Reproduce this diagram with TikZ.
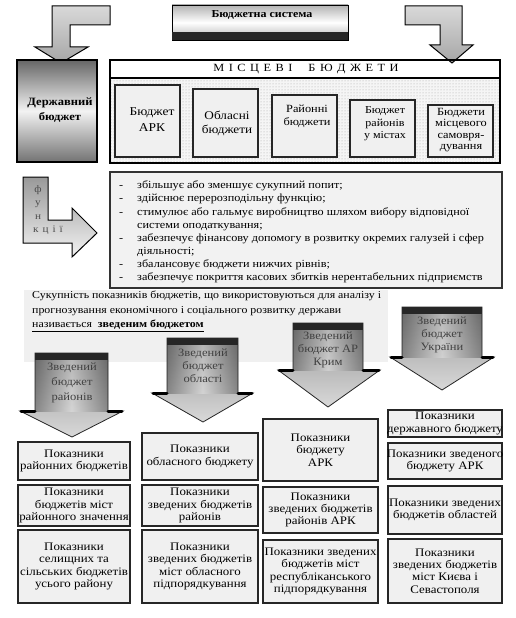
\documentclass[tikz,border=0pt]{standalone}
\usepackage{fontspec}
\setmainfont{Liberation Serif}[FakeStretch=1.12]
\usetikzlibrary{patterns}
\newcommand\pbx[5]{\node[pbox, minimum width=#3, minimum height=#4] (#1) at (#2) {};
  \node[ptext] (#1t) at (#1) {#5};}
\begin{document}
\begin{tikzpicture}[x=1pt,y=-1pt,
  larr/.style={draw=black, line width=1pt, top color=gray!30, bottom color=gray!70},
  inbox/.style={draw=black!85, line width=2pt, fill=gray!12, inner sep=0pt},
  pbox/.style={draw=black!85, line width=1.8pt, fill=gray!12, inner sep=0pt},
  ptext/.style={inner sep=0pt, align=center, font=\fontsize{11.5}{12.3}\selectfont},
  darr/.style={draw=black!85, line width=0.8pt, top color=gray!85, bottom color=gray!30},
  dside/.style={left color=black, right color=black, middle color=white, fill opacity=0.3},
  wing/.style={draw=black, line width=3pt, line cap=round},
  band/.style={fill=black!85},
  atext/.style={align=center, text=black!75, font=\fontsize{11.2}{13}\selectfont},
  ftext/.style={text=black!70, font=\fontsize{10}{12}\selectfont, inner sep=0pt},
]
\useasboundingbox (0,0) rectangle (515,618);
\fill[white] (0,0) rectangle (515,618);

% top L-arrows
\path[larr] (110,6) -- (52,6) -- (52,47) -- (35,47) -- (61,63) -- (88,47) -- (70,47) -- (70,25) -- (110,25) -- cycle;
\path[larr] (405,6) -- (462,6) -- (462,45) -- (473,45) -- (452,63) -- (430,45) -- (440,45) -- (440,25) -- (405,25) -- cycle;

% budget system
\node[draw=black, line width=0.8pt, minimum width=176pt, minimum height=35pt, inner sep=0pt,
      top color=gray!60, bottom color=gray!60, middle color=white] (bsbox) at (260,22.5) {};
\fill[black!85] (172,32) rectangle (348,40);
\node[font=\bfseries\fontsize{10.7}{13}\selectfont] (bs) at (262,15) {Бюджетна система};

% state budget
\node[draw=black, line width=1.5pt, minimum width=80pt, minimum height=102pt, inner sep=0pt,
      top color=black!60, bottom color=black!55, middle color=black!5] (db) at (57,111) {};
\node[font=\bfseries\fontsize{11.2}{15}\selectfont, align=center] (dbt) at (60,110.5) {Державний\\бюджет};

% local budgets
\fill[gray!8] (111,78) rectangle (499,162);
\fill[pattern=dots, pattern color=gray!70] (111,78) rectangle (499,162);
\node[draw=black, line width=1.6pt, minimum width=390pt, minimum height=103pt, inner sep=0pt] (mb) at (305,111.5) {};
\draw[line width=1.2pt] (110,78) -- (500,78);
\node[font=\fontsize{11}{13}\selectfont] (mbt) at (306,69.5) {М\hspace{4.5pt}І\hspace{4.5pt}С\hspace{4.5pt}Ц\hspace{4.5pt}Е\hspace{4.5pt}В\hspace{4.5pt}І\hspace{16pt}Б\hspace{4.5pt}Ю\hspace{4.5pt}Д\hspace{4.5pt}Ж\hspace{4.5pt}Е\hspace{4.5pt}Т\hspace{4.5pt}И};

\node[inbox, minimum width=65pt, minimum height=72pt] (b1) at (147.5,121) {};
\node[inbox, minimum width=65pt, minimum height=68pt] (b2) at (225.5,123) {};
\node[inbox, minimum width=65pt, minimum height=62pt] (b3) at (304.5,126) {};
\node[inbox, minimum width=65pt, minimum height=57pt] (b4) at (382.5,128.5) {};
\node[inbox, minimum width=65pt, minimum height=52pt] (b5) at (460.5,131) {};
\node[align=center, font=\fontsize{12}{16}\selectfont] (t1) at (152,120) {Бюджет\\АРК};
\node[align=center, font=\fontsize{11.8}{14}\selectfont] (t2) at (227,123) {Обласні\\бюджети};
\node[align=center, font=\fontsize{11}{13}\selectfont] (t3) at (307,116) {Районні\\бюджети};
\node[align=center, font=\fontsize{10.7}{12.5}\selectfont] (t4) at (385,124) {Бюджет\\районів\\у містах};
\node[align=center, font=\fontsize{11}{11.4}\selectfont] (t5) at (461,130) {Бюджети\\місцевого\\самовря-\\дування};

% functions arrow
\path[draw=black, line width=1pt, top color=gray!80, bottom color=gray!10] (23,177) -- (48,177) -- (48,220) -- (72,220) -- (72,208) -- (97,233) -- (72,257) -- (72,243) -- (23,243) -- cycle;
\node[ftext] (f1) at (38,190) {ф};
\node[ftext] (f2) at (38,204) {у};
\node[ftext] (f3) at (38,217) {н};
\node[ftext] (f4) at (48,230) {к\hspace{4pt}ц\hspace{4pt}і\hspace{4pt}ї};

% functions box
\node[draw=black!80, line width=2pt, fill=gray!10, minimum width=392pt, minimum height=116pt, inner sep=0pt] (fb) at (306,230) {};
\node[anchor=north west, inner sep=0pt, font=\fontsize{10.9}{13.1}\selectfont] (fl) at (119,179.5) {%
\begin{tabular}{@{}p{18pt}@{}l@{}}
-&збільшує або зменшує сукупний попит;\\
-&здійснює перерозподільну функцію;\\
-&стимулює або гальмує виробництво шляхом вибору відповідної\\
&системи оподаткування;\\
-&забезпечує фінансову допомогу в розвитку окремих галузей і сфер\\
&діяльності;\\
-&збалансовує бюджети нижчих рівнів;\\
-&забезпечує покриття касових збитків нерентабельних підприємств
\end{tabular}};

% summary
\node[fill=gray!12, minimum width=364pt, minimum height=72pt, inner sep=0pt] (sr) at (206,326) {};
\node[anchor=north west, inner sep=0pt, align=left, font=\fontsize{10.6}{14.5}\selectfont] (st) at (32,291) {Сукупність показників бюджетів, що використовуються для аналізу і\\прогнозування економічного і соціального розвитку держави\\\underline{називається\ \ \textbf{зведеним бюджетом}}};

% down arrows
\path[darr] (35,353) -- (108,353) -- (108,411) -- (123,411) -- (72,437) -- (20,411) -- (35,411) -- cycle;
\path[dside] (35,360) rectangle (108,411);
\draw[wing] (21,411) -- (35,411) (108,411) -- (122,411);
\fill[band] (35,353) rectangle (108,360);
\node[atext, font=\fontsize{11.2}{15}\selectfont] (a1) at (72,383) {Зведений\\бюджет\\районів};

\path[darr] (167,338) -- (238,338) -- (238,393) -- (253,393) -- (203,422) -- (152,393) -- (167,393) -- cycle;
\path[dside] (167,345) rectangle (238,393);
\draw[wing] (153,393) -- (167,393) (238,393) -- (252,393);
\fill[band] (167,338) rectangle (238,345);
\node[atext] (a2) at (203,366) {Зведений\\бюджет\\області};

\path[darr] (293,323) -- (363,323) -- (363,370) -- (380,370) -- (328,407) -- (278,370) -- (293,370) -- cycle;
\path[dside] (293,330) rectangle (363,370);
\draw[wing] (279,370) -- (293,370) (363,370) -- (379,370);
\fill[band] (293,323) rectangle (363,330);
\node[atext] (a3) at (328,350) {Зведений\\бюджет АР\\Крим};

\path[darr] (402,307) -- (482,307) -- (482,357) -- (494,357) -- (442,390) -- (390,357) -- (402,357) -- cycle;
\path[dside] (402,314) rectangle (482,357);
\draw[wing] (391,357) -- (402,357) (482,357) -- (493,357);
\fill[band] (402,307) rectangle (482,314);
\node[atext] (a4) at (442,335) {Зведений\\бюджет\\України};

% indicator boxes
\pbx{c1a}{74,461}{112pt}{38pt}{Показники\\районних бюджетів}
\pbx{c1b}{74,505.5}{112pt}{41pt}{Показники\\бюджетів міст\\районного значення}
\pbx{c1c}{74,566.5}{112pt}{73pt}{Показники\\селищних та\\сільських бюджетів\\усього району}

\pbx{c2a}{200,456.5}{116pt}{47pt}{Показники\\обласного бюджету}
\pbx{c2b}{200,505.5}{116pt}{41pt}{Показники\\зведених бюджетів\\районів}
\pbx{c2c}{200,566.5}{116pt}{73pt}{Показники\\зведених бюджетів\\міст обласного\\підпорядкування}

\pbx{c3a}{320.5,450}{115pt}{62pt}{Показники\\бюджету\\АРК}
\pbx{c3b}{320.5,510}{115pt}{46pt}{Показники\\зведених бюджетів\\районів АРК}
\pbx{c3c}{320.5,571.5}{115pt}{63pt}{Показники зведених\\бюджетів міст\\республіканського\\підпорядкування}

\pbx{c4a}{445,423.5}{114pt}{27pt}{Показники\\державного бюджету}
\pbx{c4b}{445,461}{114pt}{36pt}{Показники зведеного\\бюджету АРК}
\pbx{c4c}{445,510}{114pt}{48pt}{Показники зведених\\бюджетів областей}
\pbx{c4d}{445,571}{114pt}{64pt}{Показники\\зведених бюджетів\\міст Києва і\\Севастополя}
\end{tikzpicture}
\end{document}
